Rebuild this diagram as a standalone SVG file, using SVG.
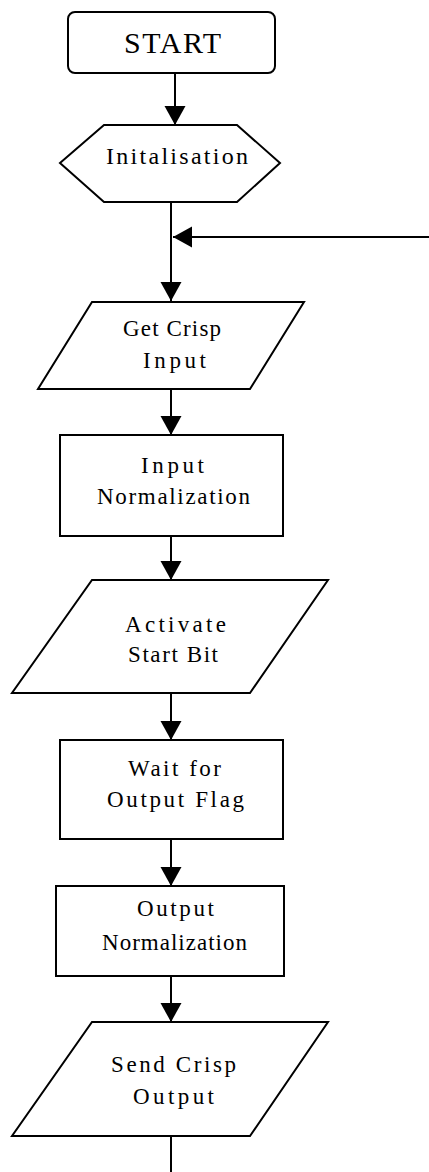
<svg xmlns="http://www.w3.org/2000/svg" width="429" height="1172" viewBox="0 0 429 1172">
<style>
.shape{fill:#fff;stroke:#000;stroke-width:2}
.conn{fill:none;stroke:#000;stroke-width:2}
.t{font-family:'Liberation Serif','Times New Roman',Times,serif;font-size:23px;fill:#000}
.big{font-size:30px}
.mid{font-size:24px}
</style>
<defs>
<marker id="ah" markerUnits="userSpaceOnUse" markerWidth="20" markerHeight="22" refX="19" refY="10.5" orient="auto">
<path d="M0,0 L19,10.5 L0,21 z" fill="#000"/>
</marker>
</defs>
<rect width="429" height="1172" fill="#fff"/>
<g id="connectors">
<line class="conn" x1="175" y1="73" x2="175" y2="125" marker-end="url(#ah)"/>
<line class="conn" x1="171" y1="202" x2="171" y2="301" marker-end="url(#ah)"/>
<line class="conn" x1="429" y1="237" x2="173" y2="237" marker-end="url(#ah)"/>
<line class="conn" x1="171" y1="389" x2="171" y2="435" marker-end="url(#ah)"/>
<line class="conn" x1="171" y1="536" x2="171" y2="580" marker-end="url(#ah)"/>
<line class="conn" x1="171" y1="693" x2="171" y2="740" marker-end="url(#ah)"/>
<line class="conn" x1="171" y1="839" x2="171" y2="886" marker-end="url(#ah)"/>
<line class="conn" x1="171" y1="976" x2="171" y2="1022" marker-end="url(#ah)"/>
<line class="conn" x1="171" y1="1136" x2="171" y2="1172"/>
</g>
<g id="start">
<rect class="shape" x="68" y="12" width="207" height="61" rx="7"/>
<text class="t big" x="124" y="53" textLength="97" lengthAdjust="spacing">START</text>
</g>
<g id="init">
<polygon class="shape" points="60,163 104,125 237,125 280,163 237,202 104,202"/>
<text class="t mid" x="106" y="164" textLength="142" lengthAdjust="spacing">Initalisation</text>
</g>
<g id="getinput">
<polygon class="shape" points="92,302 304,302 250,389 38,389"/>
<text class="t" x="123" y="336" textLength="98" lengthAdjust="spacing">Get Crisp</text>
<text class="t" x="143" y="368" textLength="63" lengthAdjust="spacing">Input</text>
</g>
<g id="innorm">
<rect class="shape" x="60" y="435" width="223" height="101"/>
<text class="t" x="141" y="473" textLength="63" lengthAdjust="spacing">Input</text>
<text class="t" x="97" y="504" textLength="153" lengthAdjust="spacing">Normalization</text>
</g>
<g id="activate">
<polygon class="shape" points="92,580 328,580 250,693 12,693"/>
<text class="t" x="125" y="632" textLength="101" lengthAdjust="spacing">Activate</text>
<text class="t" x="128" y="662" textLength="90" lengthAdjust="spacing">Start Bit</text>
</g>
<g id="wait">
<rect class="shape" x="60" y="740" width="223" height="99"/>
<text class="t" x="128" y="776" textLength="93" lengthAdjust="spacing">Wait for</text>
<text class="t" x="107" y="807" textLength="137" lengthAdjust="spacing">Output Flag</text>
</g>
<g id="outnorm">
<rect class="shape" x="56" y="886" width="228" height="90"/>
<text class="t" x="137" y="916" textLength="77" lengthAdjust="spacing">Output</text>
<text class="t" x="102" y="950" textLength="145" lengthAdjust="spacing">Normalization</text>
</g>
<g id="send">
<polygon class="shape" points="92,1022 328,1022 250,1136 12,1136"/>
<text class="t" x="111" y="1072" textLength="125" lengthAdjust="spacing">Send Crisp</text>
<text class="t" x="133" y="1104" textLength="81" lengthAdjust="spacing">Output</text>
</g>
</svg>
